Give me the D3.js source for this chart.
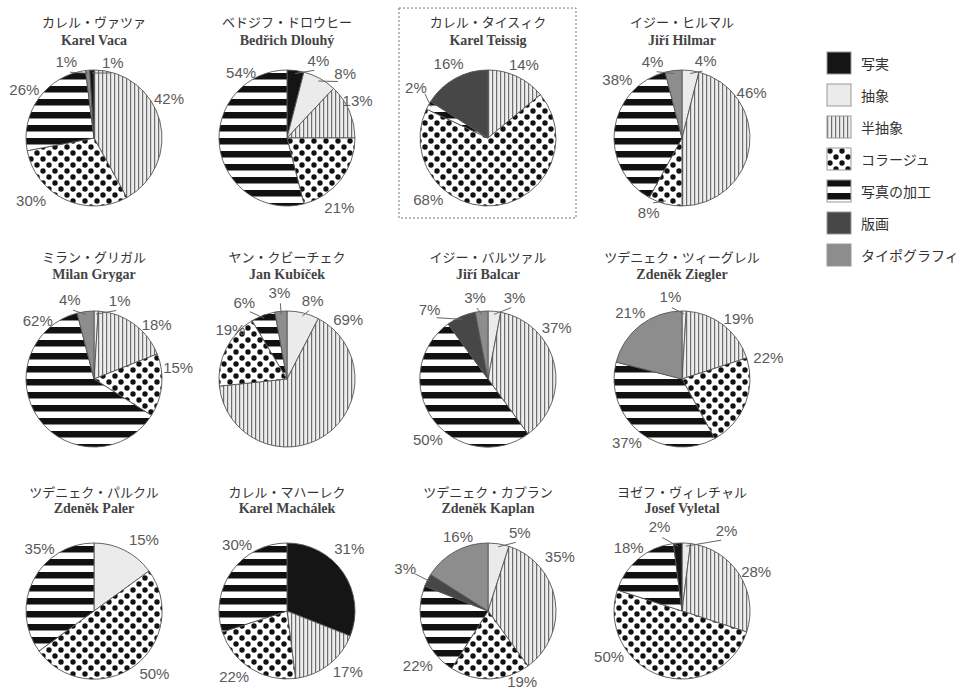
<!DOCTYPE html>
<html>
<head>
<meta charset="utf-8">
<script src="https://cdn.jsdelivr.net/npm/d3@7"></script>
<style>
  body { margin: 0; background: #fff; }
  svg { display: block; }
</style>
</head>
<body>
<svg id="chart" width="965" height="693"></svg>
<script>
// Working methods, in legend order
const categories = ["写実", "抽象", "半抽象", "コラージュ", "写真の加工", "版画", "タイポグラフィ"];

const namesJa = [
  "カレル・ヴァツァ", "ベドジフ・ドロウヒー", "カレル・タイスィク", "イジー・ヒルマル",
  "ミラン・グリガル", "ヤン・クビーチェク", "イジー・バルツァル", "ツデニェク・ツィーグレル",
  "ツデニェク・パルクル", "カレル・マハーレク", "ツデニェク・カプラン", "ヨゼフ・ヴィレチャル"
];
const namesEn = [
  "Karel Vaca", "Bedřich Dlouhý", "Karel Teissig", "Jiří Hilmar",
  "Milan Grygar", "Jan Kubíček", "Jiří Balcar", "Zdeněk Ziegler",
  "Zdeněk Paler", "Karel Machálek", "Zdeněk Kaplan", "Josef Vyletal"
];

// Percent per method (legend order) for each artist
const shares = [
  [1, 0, 42, 30, 26, 0, 1],
  [4, 8, 13, 21, 54, 0, 0],
  [0, 0, 14, 68, 2, 16, 0],
  [0, 4, 46, 8, 38, 0, 4],
  [0, 1, 18, 15, 62, 0, 4],
  [0, 8, 69, 19, 6, 0, 3],
  [0, 3, 37, 0, 50, 7, 3],
  [0, 1, 19, 22, 37, 0, 21],
  [0, 15, 0, 50, 35, 0, 0],
  [31, 0, 17, 22, 30, 0, 0],
  [0, 5, 35, 19, 22, 3, 16],
  [2, 2, 28, 50, 18, 0, 0]
];

// Pies whose 写実 slice closes the circle instead of opening it
const realismLast = [true, false, false, false, false, false, false, false, false, false, false, true];

// Highlighted artist (framed)
const highlighted = 2;

// ---- layout ----
const colX = [94, 287, 488, 682];
const rowY = [138, 379, 611];
const titleJaY = [21, 256, 491];
const titleEnY = [40, 274, 508];
const R = 68;

// Label placement per pie, for each drawn slice in order: [angle deg clockwise from 12 o'clock, distance]
const labelSpots = [
  [[62, 85], [225, 89], [305, 85], [-20, 81], [14, 78]],
  [[22, 84], [42, 87], [62, 80], [143, 87], [-35, 80]],
  [[26, 82], [224, 86], [-55, 88], [-28, 84]],
  [[17, 81], [57, 83], [204, 82], [-48, 87], [-21, 82]],
  [[18, 83], [49, 83], [82, 85], [-44, 81], [-17, 83]],
  [[18, 83], [46, 85], [-49, 75], [-29, 88], [-5, 87]],
  [[18, 86], [53, 86], [225, 85], [-40, 91], [-9, 83]],
  [[-8, 83], [43, 83], [76, 89], [221, 84], [-38, 84]],
  [[35, 87], [136, 87], [-41, 83]],
  [[45, 88], [135, 86], [219, 84], [-37, 83]],
  [[22, 85], [53, 90], [154, 78], [232, 89], [-63, 93], [-22, 80]],
  [[29, 92], [62, 84], [238, 86], [-40, 83], [-15, 87]]
];

const svg = d3.select("#chart");
const defs = svg.append("defs");

// 半抽象: vertical hairlines
const vs = defs.append("pattern").attr("id", "pat-vstripe")
  .attr("patternUnits", "userSpaceOnUse").attr("width", 4).attr("height", 10);
vs.append("rect").attr("width", 4).attr("height", 10).attr("fill", "#ededed");
vs.append("rect").attr("x", 0).attr("width", 1.2).attr("height", 10).attr("fill", "#6e6e6e");

// コラージュ: staggered black dots
const dp = defs.append("pattern").attr("id", "pat-dots")
  .attr("patternUnits", "userSpaceOnUse").attr("width", 12).attr("height", 12);
dp.append("rect").attr("width", 12).attr("height", 12).attr("fill", "#fff");
dp.append("circle").attr("cx", 3).attr("cy", 3).attr("r", 2.7).attr("fill", "#111");
dp.append("circle").attr("cx", 9).attr("cy", 9).attr("r", 2.7).attr("fill", "#111");

// 写真の加工: thick horizontal bands
const hs = defs.append("pattern").attr("id", "pat-hstripe")
  .attr("patternUnits", "userSpaceOnUse").attr("width", 10).attr("height", 13);
hs.append("rect").attr("width", 10).attr("height", 13).attr("fill", "#fff");
hs.append("rect").attr("y", 0).attr("width", 10).attr("height", 6.5).attr("fill", "#111");

const fills = d3.scaleOrdinal()
  .domain(categories)
  .range(["#151515", "#ebebeb", "url(#pat-vstripe)", "url(#pat-dots)", "url(#pat-hstripe)", "#474747", "#8d8d8d"]);

const pie = d3.pie().sort(null).value(d => d.value).startAngle(0).endAngle(2 * Math.PI);
const arc = d3.arc().innerRadius(0).outerRadius(R);

const polar = (a, d) => [d * Math.sin(a), -d * Math.cos(a)];
const rad = deg => deg * Math.PI / 180;

shares.forEach((vals, i) => {
  const col = i % 4, row = Math.floor(i / 4);
  const cx = colX[col], cy = rowY[row];

  // drawing order
  const order = realismLast[i] ? [1, 2, 3, 4, 5, 6, 0] : [0, 1, 2, 3, 4, 5, 6];
  const slices = order.filter(k => vals[k] > 0).map(k => ({ cat: categories[k], value: vals[k] }));
  const arcs = pie(slices);

  if (i === highlighted) {
    svg.append("rect")
      .attr("x", cx - 89).attr("y", 8).attr("width", 177).attr("height", 210)
      .attr("fill", "none").attr("stroke", "#777").attr("stroke-width", 1)
      .attr("stroke-dasharray", "2,2");
  }

  svg.append("text")
    .attr("x", cx).attr("y", titleJaY[row])
    .attr("text-anchor", "middle").attr("dominant-baseline", "central")
    .attr("font-family", "'Noto Sans CJK JP', sans-serif")
    .attr("font-size", 13).attr("fill", "#333")
    .text(namesJa[i]);
  svg.append("text")
    .attr("x", cx).attr("y", titleEnY[row])
    .attr("text-anchor", "middle").attr("dominant-baseline", "central")
    .attr("font-family", "'Liberation Serif', 'DejaVu Serif', serif")
    .attr("font-weight", "bold")
    .attr("font-size", 14).attr("fill", "#444")
    .text(namesEn[i]);

  const g = svg.append("g").attr("transform", `translate(${cx},${cy})`);

  g.selectAll("path.slice").data(arcs).join("path")
    .attr("class", "slice")
    .attr("d", arc)
    .attr("fill", d => fills(d.data.cat))
    .attr("stroke", "#555").attr("stroke-width", 0.9);

  arcs.forEach((d, j) => {
    const spot = labelSpots[i][j];
    const a = rad(spot[0]), dist = spot[1];
    const [lx, ly] = polar(a, dist);
    if (d.data.value <= 8) {
      const mid = (d.startAngle + d.endAngle) / 2;
      const [sx, sy] = polar(mid, R - 3);
      const [ex, ey] = polar(a, dist - 11);
      g.append("line")
        .attr("x1", sx).attr("y1", sy).attr("x2", ex).attr("y2", ey)
        .attr("stroke", "#666").attr("stroke-width", 1);
    }
    g.append("text")
      .attr("x", lx).attr("y", ly)
      .attr("text-anchor", "middle").attr("dominant-baseline", "central")
      .attr("font-family", "'Liberation Sans', Arial, sans-serif")
      .attr("font-size", 15).attr("fill", "#5a5a5a")
      .text(d.data.value + "%");
  });
});

// Legend
const legend = svg.append("g").attr("transform", "translate(827,52)");
const items = legend.selectAll("g").data(categories).join("g")
  .attr("transform", (d, k) => `translate(0,${k * 32})`);
items.append("rect")
  .attr("width", 24).attr("height", 22)
  .attr("fill", d => fills(d))
  .attr("stroke", "#999").attr("stroke-width", 1);
items.append("text")
  .attr("x", 34).attr("y", 11)
  .attr("dominant-baseline", "central")
  .attr("font-family", "'Noto Sans CJK JP', sans-serif")
  .attr("font-size", 14).attr("fill", "#333")
  .text(d => d);
</script>
</body>
</html>
